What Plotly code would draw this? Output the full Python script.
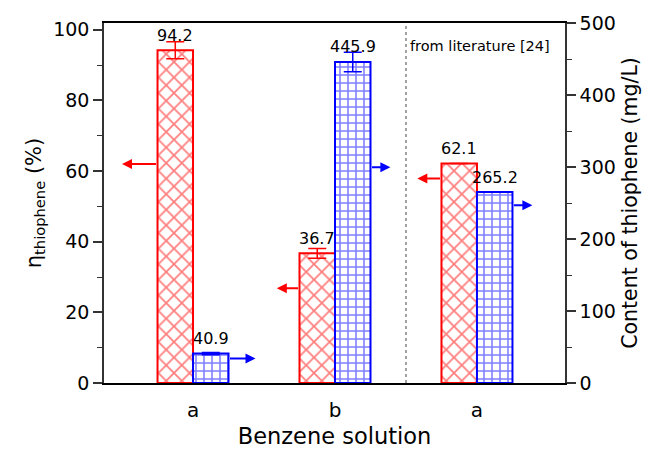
import plotly.graph_objects as go

groups = ["a", "b", "a"]
eta_values = [94.2, 36.7, 62.1]          # left axis, %
eta_errors = [2.4, 1.4, 0.0]
content_values = [40.9, 445.9, 265.2]   # right axis, mg/L
content_errors = [1.5, 13.5, 0.0]
red_arrow_levels = [62.0, 26.8, 57.9]    # left-axis units
blue_arrow_levels = [34.0, 299.5, 247.0] # right-axis units
red_arrow_len = [0.25, 0.16, 0.17]
blue_arrow_len = [0.19, 0.14, 0.14]

idx = list(range(len(groups)))
RED = "#ff0000"
BLUE = "#0000ff"
FONT = "DejaVu Sans, Arial, sans-serif"
BW = 0.25

fig = go.Figure()
fig.add_trace(go.Bar(
    x=idx, y=eta_values, width=BW, offset=-BW, yaxis="y",
    marker=dict(color="white", line=dict(color=RED, width=2),
                pattern=dict(shape="x", fgcolor=RED, bgcolor="white", size=11, solidity=0.3)),
    error_y=dict(type="data", array=eta_errors, color=RED, thickness=1.5, width=9,
                 visible=True),
    showlegend=False,
))
fig.add_trace(go.Bar(
    x=idx, y=content_values, width=BW, offset=0, yaxis="y2",
    marker=dict(color="white", line=dict(color=BLUE, width=2),
                pattern=dict(shape="+", fgcolor=BLUE, bgcolor="white", size=8, solidity=0.35)),
    error_y=dict(type="data", array=content_errors, color=BLUE, thickness=1.5, width=9,
                 visible=True),
    showlegend=False,
))

ann = []
for i, v in zip(idx, eta_values):
    ann.append(dict(x=i - BW / 2, y=v, xref="x", yref="y", text=f"{v:.1f}",
                    showarrow=False, yanchor="middle", yshift=15,
                    font=dict(size=16, color="black", family=FONT)))
for i, v in zip(idx, content_values):
    ann.append(dict(x=i + BW / 2, y=v, xref="x", yref="y2", text=f"{v:.1f}",
                    showarrow=False, yanchor="middle", yshift=15,
                    font=dict(size=16, color="black", family=FONT)))
# direction arrows
for i, lv, ln in zip(idx, red_arrow_levels, red_arrow_len):
    ann.append(dict(x=i - BW - ln, y=lv, xref="x", yref="y",
                    ax=i - BW, ay=lv, axref="x", ayref="y",
                    showarrow=True, arrowhead=2, arrowsize=1.0, arrowwidth=2,
                    arrowcolor=RED, text=""))
for i, lv, ln in zip(idx, blue_arrow_levels, blue_arrow_len):
    ann.append(dict(x=i + BW + ln, y=lv, xref="x", yref="y2",
                    ax=i + BW, ay=lv, axref="x", ayref="y2",
                    showarrow=True, arrowhead=2, arrowsize=1.0, arrowwidth=2,
                    arrowcolor=BLUE, text=""))
ann.append(dict(x=1.5, y=1, xref="x", yref="paper", text="from literature [24]",
                showarrow=False, xanchor="left", yanchor="top", xshift=2, yshift=-13,
                font=dict(size=14.5, color="black", family=FONT)))

fig.update_layout(
    width=660, height=449,
    margin=dict(l=104, r=95, t=23, b=66),
    paper_bgcolor="white", plot_bgcolor="white",
    barmode="overlay",
    font=dict(family=FONT, color="black"),
    annotations=ann,
    shapes=[dict(type="line", x0=1.5, x1=1.5, y0=0, y1=1, xref="x", yref="paper",
                 line=dict(color="#444444", width=1, dash="dot"))],
    xaxis=dict(range=[-0.627, 2.62], tickvals=idx, ticktext=groups, automargin=False,
               showline=True, linecolor="black", linewidth=1.5, mirror=True,
               ticks="", showgrid=False, zeroline=False, ticklabelstandoff=8,
               tickfont=dict(size=20, family=FONT),
               title=dict(text="Benzene solution", font=dict(size=22.5, family=FONT), standoff=12)),
    yaxis=dict(range=[0, 101.9], tickvals=[0, 20, 40, 60, 80, 100], automargin=False,
               showline=True, linecolor="#333333", linewidth=1.5,
               ticks="outside", ticklen=9, tickwidth=1.5, tickcolor="#333333",
               minor=dict(ticks="outside", ticklen=5, tickwidth=1.2, tickcolor="#333333", dtick=10),
               showgrid=False, zeroline=False,
               tickfont=dict(size=19, family=FONT),
               title=dict(text="η<sub>thiophene</sub> (%)", font=dict(size=21, family=FONT), standoff=6)),
    yaxis2=dict(range=[0, 500], overlaying="y", side="right", automargin=False,
                tickvals=[0, 100, 200, 300, 400, 500],
                showline=True, linecolor="#333333", linewidth=1.5,
                ticks="outside", ticklen=9, tickwidth=1.5, tickcolor="#333333",
                minor=dict(ticks="outside", ticklen=5, tickwidth=1.2, tickcolor="#333333", dtick=50),
                showgrid=False, zeroline=False,
                tickfont=dict(size=19, family=FONT),
                title=dict(text="Content of thiophene (mg/L)", font=dict(size=20.5, family=FONT), standoff=8)),
)

fig.write_html("out.html")
